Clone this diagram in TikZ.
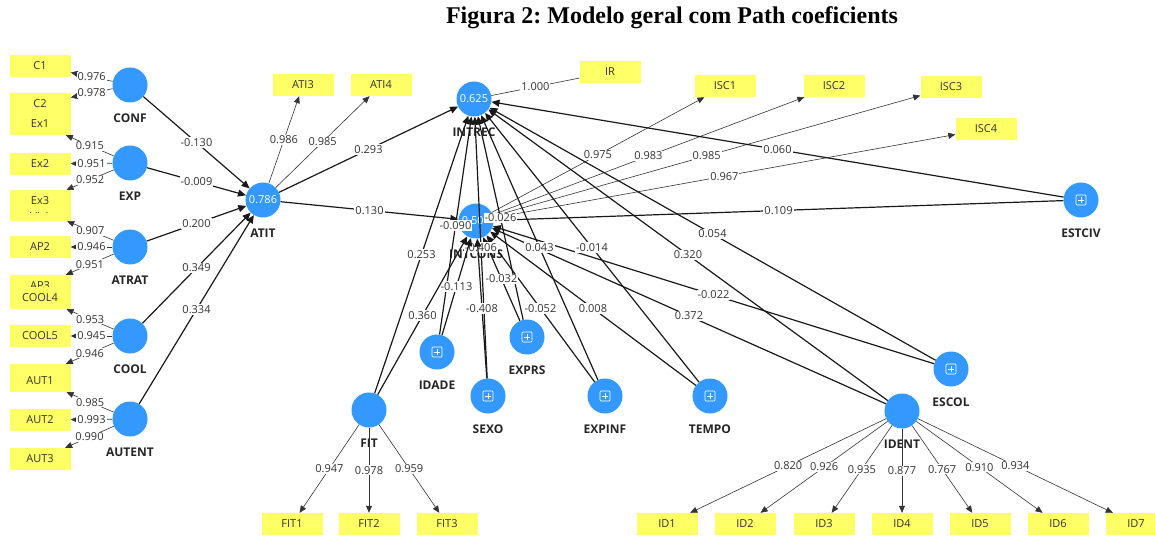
\documentclass[tikz,border=0pt]{standalone}
\usepackage{fontspec}
\setmainfont{Open Sans}
\newfontfamily\titlefont{Liberation Serif}
\usepackage{tikz}
\usetikzlibrary{calc,positioning,arrows.meta}
\usepackage{xcolor}
\definecolor{lvblue}{RGB}{51,153,255}
\definecolor{indyellow}{RGB}{255,255,102}
\frenchspacing

\begin{document}
\begin{tikzpicture}[x=1pt,y=-1pt,label distance=8pt,
  lv/.style={circle, fill=lvblue, minimum size=35pt, inner sep=0pt, text=white,
    font=\fontsize{11}{12}\selectfont},
  lvname/.style={font=\fontsize{12}{14}\selectfont\bfseries, text=black!85},
  single/.style={lv, path picture={
    \draw[white, line width=0.7pt, rounded corners=1pt]
      ([shift={(-5pt,-5pt)}]path picture bounding box.center) rectangle ([shift={(5pt,5pt)}]path picture bounding box.center);
    \draw[white, line width=0.7pt]
      ([shift={(-3pt,0pt)}]path picture bounding box.center) -- ([shift={(3pt,0pt)}]path picture bounding box.center)
      ([shift={(0pt,-3pt)}]path picture bounding box.center) -- ([shift={(0pt,3pt)}]path picture bounding box.center);}},
  ind/.style={rectangle, fill=indyellow, minimum width=61pt, minimum height=22pt, inner sep=0pt,
    font=\fontsize{11}{12}\selectfont, text=black!80},
  struct/.style={line width=1.2pt, black!90, -{Triangle[length=8pt,width=7pt]}},
  meas/.style={line width=0.6pt, black!80, -{Triangle[length=7pt,width=6pt]}},
  coef/.style={fill=white, inner sep=1pt, font=\fontsize{11}{12}\selectfont, text=black!80}]
  \useasboundingbox (0,0) rectangle (1155,537);
  \node[font=\titlefont\fontsize{24}{27}\selectfont\bfseries] (title) at (672,18) {Figura 2: Modelo geral com Path coeficients};

  % indicators, left
  \node[ind] (C1) at (40,66) {C1};
  \node[ind] (C2) at (40,104) {C2};
  \node[ind] (Ex1) at (40,124) {Ex1};
  \node[ind] (Ex2) at (40,164) {Ex2};
  \node[ind] (AP1) at (40,210) {AP1};
  \node[ind] (Ex3) at (40,201) {Ex3};
  \node[ind] (AP2) at (40,247) {AP2};
  \node[ind] (AP3) at (40,286) {AP3};
  \node[ind] (COOL4) at (40,298) {COOL4};
  \node[ind] (COOL5) at (40,336) {COOL5};
  \node[ind] (COOL6) at (40,375) {};
  \node[ind] (AUT1) at (40,381) {AUT1};
  \node[ind] (AUT2) at (40,420) {AUT2};
  \node[ind] (AUT3) at (40,459) {AUT3};

  % indicators, top
  \node[ind] (ATI3) at (303,85) {ATI3};
  \node[ind] (ATI4) at (381,85) {ATI4};
  \node[ind] (IR) at (610,72) {IR};
  \node[ind] (ISC1) at (725,86) {ISC1};
  \node[ind] (ISC2) at (834,86) {ISC2};
  \node[ind] (ISC3) at (951,87) {ISC3};
  \node[ind] (ISC4) at (986,129) {ISC4};

  % indicators, bottom
  \foreach \n/\x in {FIT1/292,FIT2/369,FIT3/447}
    \node[ind] (\n) at (\x,524) {\n};
  \foreach \n/\x in {ID1/667,ID2/745,ID3/824,ID4/902,ID5/980,ID6/1058,ID7/1136}
    \node[ind] (\n) at (\x,524) {\n};

  % constructs
  \node[lv, label={[lvname]below:CONF}] (CONF) at (130,85) {};
  \node[lv, label={[lvname]below:EXP}] (EXP) at (130,163) {};
  \node[lv, label={[lvname]below:ATRAT}] (ATRAT) at (130,247) {};
  \node[lv, label={[lvname]below:COOL}] (COOL) at (130,336) {};
  \node[lv, label={[lvname]below:AUTENT}] (AUTENT) at (130,419) {};
  \node[lv, label={[lvname]below:ATIT}] (ATIT) at (263,200) {0.786};
  \node[lv, label={[lvname]below:INTREC}] (INTREC) at (474,99) {0.625};
  \node[lv, label={[lvname]below:INTCONS}] (INTCONS) at (476,221) {0.50\phantom{0}};
  \node[lv, label={[lvname]below:FIT}] (FIT) at (369,410) {};
  \node[lv, label={[lvname]below:IDENT}] (IDENT) at (902,411) {};
  \node[single, label={[lvname]below:ESTCIV}] (ESTCIV) at (1081,200) {};
  \node[single, label={[lvname]below:IDADE}] (IDADE) at (437,352) {};
  \node[single, label={[lvname]below:SEXO}] (SEXO) at (488,396) {};
  \node[single, label={[lvname]below:EXPRS}] (EXPRS) at (527,337) {};
  \node[single, label={[lvname]below:EXPINF}] (EXPINF) at (605,396) {};
  \node[single, label={[lvname]below:TEMPO}] (TEMPO) at (710,396) {};
  \node[single, label={[lvname]below:ESCOL}] (ESCOL) at (951,369) {};

  % outer loadings
  \draw[meas] (CONF) -- node[coef] {0.976} (C1);
  \draw[meas] (CONF) -- node[coef] {0.978} (C2);
  \draw[meas] (EXP) -- node[coef] {0.915} (Ex1);
  \draw[meas] (EXP) -- node[coef] {0.951} (Ex2);
  \draw[meas] (EXP) -- node[coef] {0.952} (Ex3);
  \draw[meas] (ATRAT) -- node[coef] {0.907} (AP1);
  \draw[meas] (ATRAT) -- node[coef] {0.946} (AP2);
  \draw[meas] (ATRAT) -- node[coef] {0.951} (AP3);
  \draw[meas] (COOL) -- node[coef] {0.953} (COOL4);
  \draw[meas] (COOL) -- node[coef] {0.945} (COOL5);
  \draw[meas] (COOL) -- node[coef] {0.946} (COOL6);
  \draw[meas] (AUTENT) -- node[coef] {0.985} (AUT1);
  \draw[meas] (AUTENT) -- node[coef] {0.993} (AUT2);
  \draw[meas] (AUTENT) -- node[coef] {0.990} (AUT3);
  \draw[meas] (ATIT) -- node[coef] {0.986} (ATI3);
  \draw[meas] (ATIT) -- node[coef] {0.985} (ATI4);
  \draw[meas, -] (INTREC) -- node[coef] {1.000} (IR);
  \draw[meas] (INTCONS) -- node[coef] {0.975} (ISC1);
  \draw[meas] (INTCONS) -- node[coef] {0.983} (ISC2);
  \draw[meas] (INTCONS) -- node[coef] {0.985} (ISC3);
  \draw[meas] (INTCONS) -- node[coef] {0.967} (ISC4);
  \foreach \n/\v in {FIT1/0.947,FIT2/0.978,FIT3/0.959}
    \draw[meas] (FIT) -- node[coef] {\v} (\n);
  \foreach \n/\v in {ID1/0.820,ID2/0.926,ID3/0.935,ID4/0.877,ID5/0.767,ID6/0.910,ID7/0.934}
    \draw[meas] (IDENT) -- node[coef] {\v} (\n);

  % path coefficients
  \draw[struct] (CONF) -- node[coef] {-0.130} (ATIT);
  \draw[struct] (EXP) -- node[coef] {-0.009} (ATIT);
  \draw[struct] (ATRAT) -- node[coef] {0.200} (ATIT);
  \draw[struct] (COOL) -- node[coef] {0.349} (ATIT);
  \draw[struct] (AUTENT) -- node[coef] {0.334} (ATIT);
  \draw[struct] (ATIT) -- node[coef] {0.293} (INTREC);
  \draw[struct] (ATIT) -- node[coef] {0.130} (INTCONS);
  \draw[struct] (ESTCIV) -- node[coef] {0.060} (INTREC);
  \draw[struct] (ESTCIV) -- node[coef] {0.109} (INTCONS);
  \draw[struct] (IDENT) -- node[coef] {0.320} (INTREC);
  \draw[struct] (IDENT) -- node[coef] {0.372} (INTCONS);
  \draw[struct] (ESCOL) -- node[coef] {0.054} (INTREC);
  \draw[struct] (ESCOL) -- node[coef] {-0.022} (INTCONS);
  \draw[struct] (TEMPO) -- node[coef] {-0.014} (INTREC);
  \draw[struct] (TEMPO) -- node[coef] {0.008} (INTCONS);
  \draw[struct] (EXPINF) -- node[coef] {0.043} (INTREC);
  \draw[struct] (EXPINF) -- node[coef] {-0.052} (INTCONS);
  \draw[struct] (EXPRS) -- node[coef] {-0.026} (INTREC);
  \draw[struct] (EXPRS) -- node[coef] {-0.032} (INTCONS);
  \draw[struct] (SEXO) -- node[coef] {-0.406} (INTREC);
  \draw[struct] (SEXO) -- node[coef] {-0.408} (INTCONS);
  \draw[struct] (IDADE) -- node[coef] {-0.090} (INTREC);
  \draw[struct] (IDADE) -- node[coef] {-0.113} (INTCONS);
  \draw[struct] (FIT) -- node[coef] {0.253} (INTREC);
  \draw[struct] (FIT) -- node[coef] {0.360} (INTCONS);
\end{tikzpicture}
\end{document}
